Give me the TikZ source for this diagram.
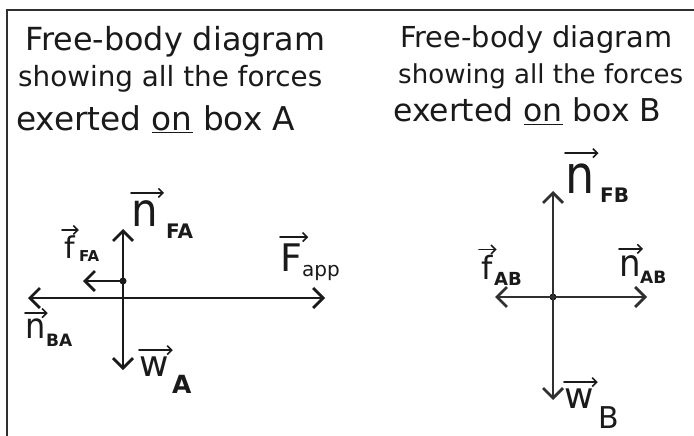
\documentclass[tikz,border=0pt]{standalone}
\usepackage{fontspec}
\setmainfont{DejaVu Sans}
\usetikzlibrary{arrows.meta}
\definecolor{ink}{HTML}{1A1A1A}
\definecolor{inkb}{HTML}{303030}
\newcommand\fitline[2]{\resizebox{#1pt}{!}{\fontsize{24}{24}\selectfont #2}}
\newcommand\fsz[1]{\fontsize{#1}{#1}\selectfont}
\newcommand\tallt[2]{\scalebox{1}[#1]{#2}}
\begin{document}
\begin{tikzpicture}[x=1pt,y=-1pt,
  force/.style={line width=2.8pt,line cap=round,-{Straight Barb[length=10pt,width=20pt]}},
  vecar/.style={line width=1.6pt,line cap=round,-{Straight Barb[length=4.5pt,width=9pt]}},
  title/.style={anchor=base west,inner sep=0pt,text=ink},
  letter/.style={anchor=base west,inner sep=0pt,text=ink},
  subs/.style={anchor=base west,inner sep=0pt,text=ink},
  frame/.style={line width=2.5pt,draw=inkb},
  dotm/.style={circle,fill=ink,inner sep=0pt,minimum size=7pt}]
\useasboundingbox (0,0) rectangle (694,436);
\fill[white] (0,0) rectangle (694,436);
% frame
\coordinate (f1) at (7,436);
\coordinate (f2) at (7,10);
\coordinate (f3) at (694,10);
\draw[frame] (f1) -- (f2) -- (f3);

% titles, left
\node[title] (tA1) at (25,50) {\fitline{300}{Free-body diagram}};
\node[title] (tA2) at (18,86) {\fitline{304}{showing all the forces}};
\node[title] (tA3) at (16,130) {\fitline{279}{exerted \underline{on} box A}};
% titles, right
\node[title] (tB1) at (400,48) {\fitline{272}{Free-body diagram}};
\node[title] (tB2) at (398,84) {\fitline{285}{showing all the forces}};
\node[title] (tB3) at (393,122) {\fitline{268}{exerted \underline{on} box B}};

% ---------- box A ----------
\coordinate (OA) at (123,298);
\node[dotm] (PA) at (123,281) {};
\coordinate (tipNFA) at (123,229);
\coordinate (tipWA) at (123,370);
\coordinate (tipNBA) at (28,298);
\coordinate (tipFapp) at (325,298);
\coordinate (tipfFA) at (83,281);
\begin{scope}[draw=ink]
\draw[force] (OA) -- (tipNFA);
\draw[force] (OA) -- (tipWA);
\draw[force] (OA) -- (tipNBA);
\draw[force] (OA) -- (tipFapp);
\draw[force] (PA.center) -- (tipfFA);
\end{scope}

% labels A
\node[letter,font=\fsz{42}] (nFA) at (131,226) {\tallt{1.1}{n}};
\node[subs,font=\fsz{20}\bfseries] (nFAs) at (166,238) {FA};
\draw[vecar,ink] ([yshift=7pt]nFA.north west) -- ([yshift=7pt,xshift=6pt]nFA.north east);

\node[letter,font=\fsz{30}] (fFA) at (64,258) {f};
\node[subs,font=\fsz{15}\bfseries] (fFAs) at (79,261) {FA};
\draw[vecar,ink] ([yshift=5pt,xshift=-2pt]fFA.north west) -- ([yshift=5pt,xshift=4pt]fFA.north east);

\node[letter,font=\fsz{38}] (Fapp) at (280,271) {F};
\node[subs,font=\fsz{20}] (Fapps) at (302,276) {app};
\draw[vecar,ink] ([yshift=6pt]Fapp.north west) -- ([yshift=6pt,xshift=6pt]Fapp.north east);

\node[letter,font=\fsz{32}] (nBA) at (25,338) {\tallt{1.1}{n}};
\node[subs,font=\fsz{17}\bfseries] (nBAs) at (46,346) {BA};
\draw[vecar,ink] ([yshift=5pt]nBA.north west) -- ([yshift=5pt,xshift=2pt]nBA.north east);

\node[letter,font=\fsz{36}] (wA) at (139,376) {w};
\node[subs,font=\fsz{25}\bfseries] (wAs) at (172,393) {A};
\draw[vecar,ink] ([yshift=6pt]wA.north west) -- ([yshift=6pt,xshift=4pt]wA.north east);

% ---------- box B ----------
\node[dotm] (OB) at (553,297) {};
\coordinate (tipNFB) at (553,191);
\coordinate (tipWB) at (553,400);
\coordinate (tipfAB) at (495,297);
\coordinate (tipNAB) at (647,297);
\begin{scope}[draw=inkb]
\draw[force] (OB.center) -- (tipNFB);
\draw[force] (OB.center) -- (tipWB);
\draw[force] (OB.center) -- (tipfAB);
\draw[force] (OB.center) -- (tipNAB);
\end{scope}

% labels B
\node[letter,font=\fsz{46}] (nFB) at (565,193) {\tallt{1.15}{n}};
\node[subs,font=\fsz{20}\bfseries] (nFBs) at (600,202) {FB};
\draw[vecar,ink] ([yshift=10pt]nFB.north west) -- ([yshift=10pt,xshift=4pt]nFB.north east);

\node[letter,font=\fsz{32}] (fAB) at (481,279) {f};
\node[subs,font=\fsz{18}\bfseries] (fABs) at (494,285) {AB};
\draw[vecar,ink] ([yshift=5pt,xshift=-2pt]fAB.north west) -- ([yshift=5pt,xshift=4pt]fAB.north east);

\node[letter,font=\fsz{34}] (nAB) at (619,276) {\tallt{1.1}{n}};
\node[subs,font=\fsz{17}\bfseries] (nABs) at (640,283) {AB};
\draw[vecar,ink] ([yshift=6pt]nAB.north west) -- ([yshift=6pt,xshift=2pt]nAB.north east);

\node[letter,font=\fsz{36}] (wB) at (564,408) {w};
\node[subs,font=\fsz{30}] (wBs) at (598,428) {B};
\draw[vecar,ink] ([yshift=6pt]wB.north west) -- ([yshift=6pt,xshift=4pt]wB.north east);
\end{tikzpicture}
\end{document}
